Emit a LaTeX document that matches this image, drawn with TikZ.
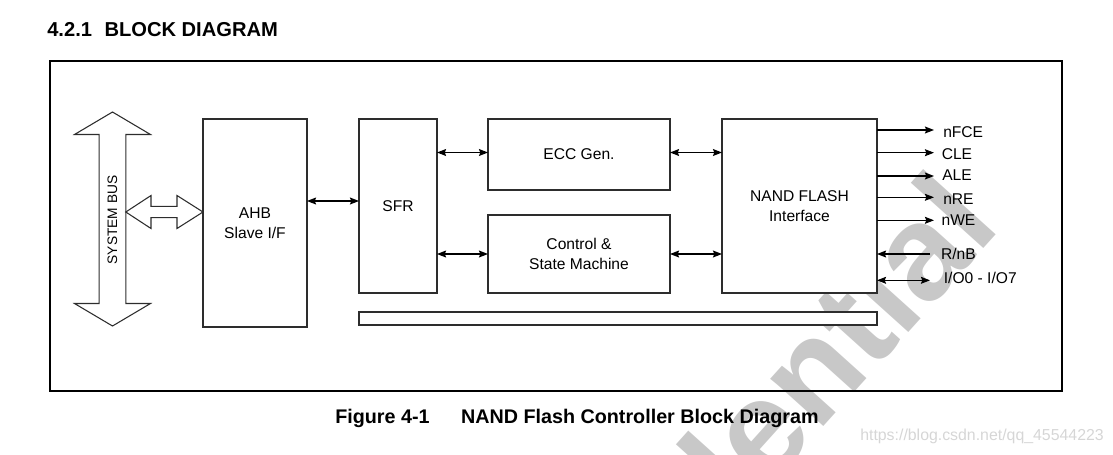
\documentclass[tikz,border=0pt]{standalone}
\usepackage{fontspec}
\setmainfont{Liberation Sans}
\usetikzlibrary{arrows.meta,calc}
\definecolor{boxc}{RGB}{45,45,45}
\definecolor{wmc}{RGB}{200,200,200}
\definecolor{csdnc}{RGB}{214,214,214}
\newcommand\lblf{\fontsize{11.7}{14.6}\selectfont}
\newcommand\busf{\fontsize{10.3}{12}\selectfont}
\newcommand\titf{\fontsize{15.1}{18}\selectfont\bfseries}
\newcommand\capf{\fontsize{14.8}{18}\selectfont\bfseries}
\begin{document}
\begin{tikzpicture}[x=0.75pt,y=-0.75pt,
  box/.style={draw=boxc, line width=0.8pt, fill=white, inner sep=0pt, outer sep=0pt, align=center, font=\lblf},
  sz/.style 2 args={minimum width=#1*0.75pt, minimum height=#2*0.75pt},
  blk/.style={draw=boxc, line width=0.8pt, fill=white, line join=miter},
  tip/.tip={Stealth[length=6.8pt,width=5.2pt,inset=1pt]},
  arr/.style={-tip, line width=0.9pt},
  darr/.style={tip-tip, line width=0.9pt},
  lab/.style={anchor=base west, inner sep=0pt, font=\lblf},
  ]
\useasboundingbox (0,0) rectangle (1113,454);
% watermark
\begin{scope}
  \clip (0,0) rectangle (1113,454);
  \node[rotate=48, anchor=base east, inner sep=0pt, text=wmc,
        font=\fontsize{101}{101}\selectfont\bfseries] (wm) at (1003,228) {Confidential};
\end{scope}
% title
\node[anchor=base west, inner sep=0pt, font=\titf] (title) at (47,36) {4.2.1\hspace{0.62em}BLOCK DIAGRAM};
% frame
\node[draw=black, line width=1.5pt, inner sep=0pt, sz={1012}{330}] (frame) at (556,226) {};
% system bus
\draw[blk] (112.5,112) -- (150.5,134.5) -- (125.8,134.5) -- (125.8,303.5) -- (150.5,303.5)
  -- (112.5,326) -- (74.5,303.5) -- (99.2,303.5) -- (99.2,134.5) -- (74.5,134.5) -- cycle;
\node[rotate=90, inner sep=0pt, font=\busf] (bus) at (112.5,220) {SYSTEM BUS};
% blocks
\node[box, sz={104}{208}] (ahb) at (255,223) {AHB\\Slave I/F};
\node[box, sz={78}{174}] (sfr) at (398,206) {SFR};
\node[box, sz={182}{71}] (ecc) at (579,154.5) {ECC Gen.};
\node[box, sz={182}{78}] (ctrl) at (579,254) {Control \&\\State Machine};
\node[box, sz={155}{174}] (nand) at (799.5,206) {NAND FLASH\\Interface};
\node[box, sz={518}{13}] (bar) at (618,318.5) {};
% block arrow bus <-> AHB
\draw[blk] (125.8,212) -- (151,195.5) -- (151,206.3) -- (177,206.3) -- (177,195.5)
  -- (ahb.west |- 0,212) -- (177,228.5) -- (177,217.7) -- (151,217.7) -- (151,228.5) -- cycle;
% internal connectors
\draw[darr] ([yshift=3.75pt]ahb.east |- sfr.west) -- ([yshift=3.75pt]sfr.west);
\draw[darr] ([yshift=1.5pt]sfr.east |- ecc.west) -- ([yshift=1.5pt]ecc.west);
\draw[darr] (sfr.east |- ctrl.west) -- (ctrl.west);
\draw[darr] ([yshift=1.5pt]ecc.east) -- ([yshift=1.5pt]nand.west |- ecc.east);
\draw[darr] (ctrl.east) -- (nand.west |- ctrl.east);
% signals
\coordinate (o1) at (934,130);
\coordinate (o2) at (934,152.7);
\coordinate (o3) at (934,176);
\coordinate (o4) at (934,197.3);
\coordinate (o5) at (934,220.3);
\coordinate (i1) at (930,254);
\coordinate (i2) at (930,280.3);
\foreach \c in {o1,o2,o3,o4,o5} \draw[arr] (nand.east |- \c) -- (\c);
\draw[arr] (i1) -- (nand.east |- i1);
\draw[darr] (nand.east |- i2) -- (i2);
\node[lab] (l1) at (943,137) {nFCE};
\node[lab] (l2) at (941.5,159.3) {CLE};
\node[lab] (l3) at (942,180.3) {ALE};
\node[lab] (l4) at (943,204.3) {nRE};
\node[lab] (l5) at (941.3,225.3) {nWE};
\node[lab] (l6) at (940.8,259.3) {R/nB};
\node[lab] (l7) at (943.6,283.6) {I/O0 - I/O7};
% caption
\node[anchor=base west, inner sep=0pt, font=\capf] (cap) at (335,423) {Figure 4-1\hspace{1.6em}NAND Flash Controller Block Diagram};
% csdn mark
\node[anchor=base west, inner sep=0pt, text=csdnc, font=\fontsize{11.9}{12}\selectfont] (csdn) at (860,440.5) {https://blog.csdn.net/qq\_45544223};
\end{tikzpicture}
\end{document}
